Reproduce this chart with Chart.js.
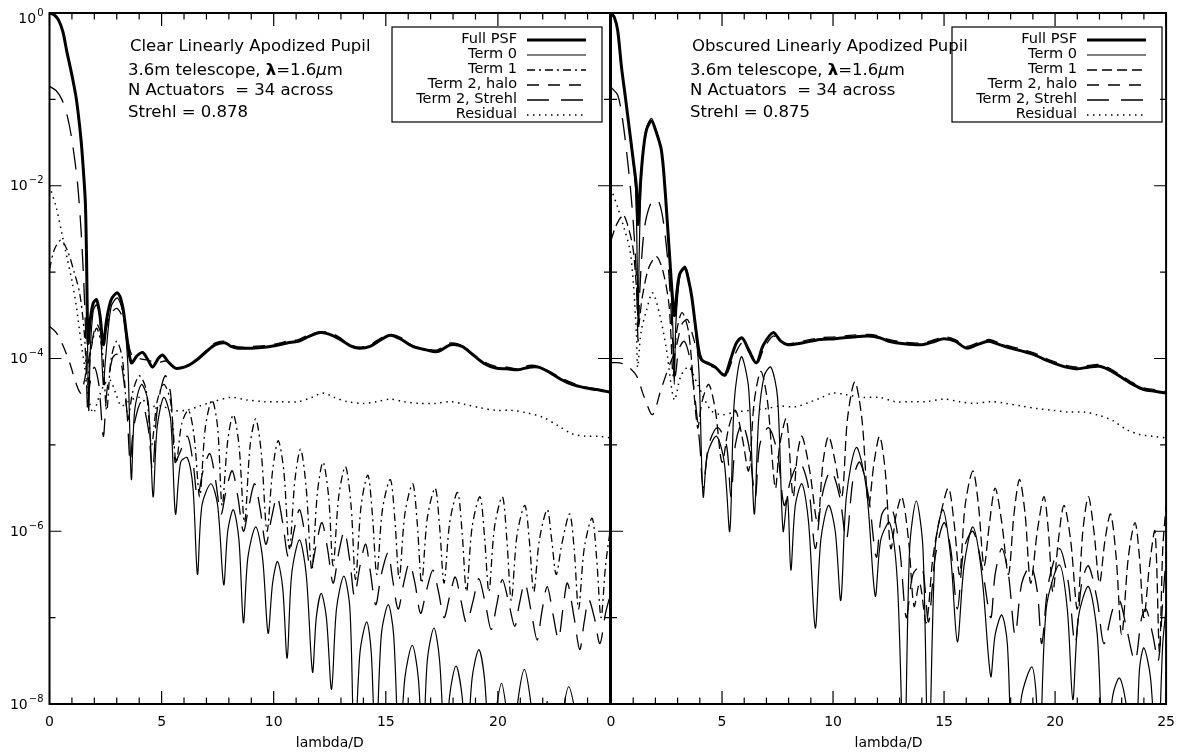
<!DOCTYPE html>
<html>
<head>
<meta charset="utf-8">
<script src="https://cdn.jsdelivr.net/npm/chart.js@4.4.1/dist/chart.umd.min.js"></script>
<style>
  html, body { margin: 0; padding: 0; background: #fff; }
  #wrap { position: relative; width: 1185px; height: 752px; }
  #left { position: absolute; left: 0; top: 0; }
  #right { position: absolute; left: 590px; top: 0; }
</style>
</head>
<body>
<div id="wrap">
  <canvas id="left" width="620" height="752"></canvas>
  <canvas id="right" width="595" height="752"></canvas>
</div>
<script>
// ---- data: [lambda/D, log10(intensity)] ----
const seriesNames = ['Full PSF', 'Term 0', 'Term 1', 'Term 2, halo', 'Term 2, Strehl', 'Residual'];
const xMajor = [0, 5, 10, 15, 20, 25];
const yDecades = [0, -1, -2, -3, -4, -5, -6, -7, -8];
const yLabelExp = [0, -2, -4, -6, -8];
const yLabelSup = ['0', '\u22122', '\u22124', '\u22126', '\u22128'];

// left panel: clear pupil
const leftFull = [[0,0],[0.2,-0.02],[0.4,-0.08],[0.6,-0.22],[0.76,-0.43],[1.0,-0.72],[1.2,-1.0],[1.4,-1.45],[1.5,-1.78],[1.6,-2.2],[1.65,-2.8],[1.72,-3.82],[1.82,-3.55],[1.95,-3.36],[2.1,-3.32],[2.25,-3.5],[2.4,-3.84],[2.55,-3.55],[2.75,-3.32],[3.03,-3.24],[3.25,-3.38],[3.45,-3.75],[3.65,-4.05],[3.9,-3.97],[4.15,-3.93],[4.4,-4.02],[4.6,-4.1],[4.85,-4.0],[5.05,-3.96],[5.3,-4.04],[5.6,-4.11],[5.85,-4.11],[6.2,-4.08],[6.65,-4.0],[7.0,-3.92],[7.4,-3.84],[7.85,-3.82],[8.1,-3.86],[8.4,-3.88],[9.0,-3.88],[9.6,-3.87],[10.1,-3.85],[10.6,-3.82],[11.1,-3.8],[11.6,-3.74],[12.1,-3.7],[12.5,-3.72],[12.9,-3.77],[13.4,-3.85],[13.8,-3.88],[14.3,-3.86],[14.8,-3.78],[15.2,-3.73],[15.7,-3.78],[16.2,-3.86],[16.8,-3.9],[17.3,-3.92],[17.9,-3.84],[18.4,-3.86],[18.9,-3.96],[19.4,-4.06],[19.9,-4.11],[20.4,-4.12],[20.9,-4.13],[21.4,-4.1],[21.8,-4.1],[22.3,-4.16],[22.8,-4.24],[23.3,-4.3],[23.9,-4.34],[24.4,-4.36],[25,-4.39]];
const leftTerm0 = [[0,0],[0.2,-0.02],[0.4,-0.08],[0.6,-0.22],[0.76,-0.43],[1.0,-0.72],[1.2,-1.0],[1.4,-1.45],[1.5,-1.78],[1.6,-2.3],[1.68,-3.5],[1.75,-4.6],[1.82,-3.9],[1.95,-3.45],[2.1,-3.38],[2.25,-3.55],[2.4,-4.3],[2.5,-4.0],[2.75,-3.4],[3.03,-3.3],[3.3,-3.5],[3.5,-4.1],[3.65,-5.4],[3.8,-4.6],[4.1,-4.3],[4.4,-4.5],[4.62,-5.6],[4.8,-4.8],[5.1,-4.45],[5.4,-4.7],[5.62,-5.8],[5.85,-5.2],[6.15,-5.15],[6.4,-5.5],[6.6,-6.5],[6.8,-5.7],[7.2,-5.45],[7.5,-5.7],[7.77,-6.62],[7.95,-6.0],[8.2,-5.75],[8.45,-6.1],[8.65,-7.06],[8.85,-6.3],[9.2,-5.95],[9.5,-6.3],[9.75,-7.18],[9.95,-6.6],[10.17,-6.35],[10.4,-6.65],[10.6,-7.47],[10.8,-6.5],[11.15,-6.1],[11.45,-6.5],[11.73,-7.63],[11.9,-7.0],[12.12,-6.72],[12.35,-7.0],[12.58,-7.83],[12.8,-6.9],[13.13,-6.52],[13.4,-6.9],[13.6,-8.6],[13.85,-7.4],[14.15,-7.05],[14.35,-7.4],[14.55,-8.6],[14.8,-7.2],[15.11,-6.85],[15.35,-7.2],[15.6,-8.6],[15.85,-7.7],[16.18,-7.32],[16.45,-7.7],[16.65,-8.6],[16.85,-7.5],[17.15,-7.12],[17.4,-7.5],[17.65,-8.6],[17.85,-7.9],[18.13,-7.56],[18.4,-7.9],[18.6,-8.6],[18.85,-7.7],[19.15,-7.37],[19.4,-7.7],[19.65,-8.6],[19.9,-8.1],[20.16,-7.76],[20.4,-8.1],[20.65,-8.6],[20.9,-7.95],[21.18,-7.6],[21.45,-7.95],[21.7,-8.6],[22.0,-8.3],[22.2,-7.97],[22.4,-8.3],[22.7,-8.6],[22.9,-8.1],[23.16,-7.8],[23.45,-8.1],[23.7,-8.6],[23.95,-8.3],[24.15,-8.1],[24.4,-8.4],[25,-8.6]];
const leftTerm1 = [[0,-2.97],[0.2,-2.75],[0.5,-2.63],[0.8,-2.75],[1.1,-3.0],[1.35,-3.25],[1.55,-3.7],[1.7,-4.3],[1.85,-3.9],[2.1,-3.65],[2.35,-3.9],[2.55,-4.6],[2.75,-4.0],[3.0,-3.8],[3.25,-4.0],[3.5,-4.7],[3.7,-4.4],[4.0,-4.2],[4.3,-4.35],[4.55,-5.0],[4.8,-4.5],[5.1,-4.3],[5.4,-4.5],[5.65,-5.2],[5.9,-4.75],[6.2,-4.6],[6.45,-4.9],[6.7,-5.6],[6.95,-4.8],[7.25,-4.48],[7.5,-4.8],[7.7,-5.7],[7.95,-4.95],[8.2,-4.65],[8.45,-5.0],[8.7,-5.9],[8.95,-5.0],[9.2,-4.7],[9.45,-5.1],[9.7,-6.0],[9.95,-5.3],[10.2,-4.95],[10.45,-5.3],[10.7,-6.2],[10.95,-5.4],[11.2,-5.05],[11.45,-5.5],[11.7,-6.45],[11.95,-5.55],[12.2,-5.2],[12.45,-5.6],[12.65,-6.4],[12.9,-5.6],[13.2,-5.25],[13.45,-5.7],[13.65,-6.56],[13.9,-5.7],[14.2,-5.35],[14.4,-5.8],[14.6,-6.5],[14.85,-5.75],[15.2,-5.4],[15.4,-5.85],[15.6,-6.55],[15.85,-5.8],[16.2,-5.45],[16.4,-5.9],[16.6,-6.6],[16.85,-5.85],[17.2,-5.5],[17.4,-5.95],[17.6,-6.6],[17.85,-5.9],[18.2,-5.55],[18.4,-6.0],[18.6,-6.7],[18.85,-5.95],[19.2,-5.6],[19.4,-6.05],[19.6,-6.7],[19.85,-5.95],[20.2,-5.6],[20.4,-6.1],[20.6,-6.8],[20.85,-6.05],[21.2,-5.7],[21.4,-6.1],[21.6,-6.7],[21.85,-6.1],[22.2,-5.75],[22.4,-6.1],[22.6,-6.5],[22.85,-6.15],[23.2,-5.8],[23.4,-6.2],[23.6,-6.9],[23.85,-6.2],[24.2,-5.85],[24.4,-6.3],[24.6,-7.0],[24.8,-6.4],[25,-6.0]];
const leftHalo = [[0,-3.63],[0.3,-3.7],[0.6,-3.85],[0.9,-4.05],[1.2,-4.3],[1.4,-4.4],[1.6,-4.2],[1.8,-3.95],[2.1,-3.6],[2.4,-3.75],[2.7,-3.5],[3.0,-3.42],[3.3,-3.55],[3.65,-3.95],[4.0,-4.0],[4.4,-4.02],[4.8,-4.05],[5.2,-4.03],[5.6,-4.1],[6.0,-4.1],[6.6,-4.0],[7.0,-3.9],[7.4,-3.82],[7.8,-3.8],[8.2,-3.85],[8.6,-3.87],[9.0,-3.86],[9.6,-3.85],[10.1,-3.83],[10.6,-3.8],[11.1,-3.78],[11.6,-3.72],[12.1,-3.69],[12.5,-3.7],[12.9,-3.75],[13.4,-3.84],[13.8,-3.87],[14.3,-3.84],[14.8,-3.76],[15.2,-3.72],[15.7,-3.76],[16.2,-3.85],[16.8,-3.89],[17.3,-3.9],[17.9,-3.82],[18.4,-3.85],[18.9,-3.95],[19.4,-4.04],[19.9,-4.09],[20.4,-4.1],[20.9,-4.12],[21.4,-4.08],[21.8,-4.09],[22.3,-4.15],[22.8,-4.22],[23.3,-4.28],[23.9,-4.33],[24.4,-4.35],[25,-4.38]];
const leftStrehl = [[0,-0.85],[0.3,-0.9],[0.55,-1.0],[0.8,-1.2],[1.0,-1.47],[1.25,-1.97],[1.45,-2.7],[1.6,-3.6],[1.7,-4.6],[1.8,-4.3],[2.0,-4.1],[2.2,-4.3],[2.4,-4.9],[2.55,-4.4],[2.8,-4.0],[3.0,-3.95],[3.2,-4.05],[3.45,-4.6],[3.6,-5.2],[3.75,-4.8],[4.1,-4.5],[4.4,-4.8],[4.6,-5.3],[4.8,-4.6],[5.15,-4.2],[5.4,-4.4],[5.6,-5.2],[5.8,-5.1],[6.15,-4.9],[6.4,-5.2],[6.6,-5.6],[6.85,-5.3],[7.15,-5.1],[7.4,-5.4],[7.65,-5.8],[7.9,-5.5],[8.15,-5.3],[8.4,-5.6],[8.65,-6.0],[8.9,-5.7],[9.15,-5.45],[9.4,-5.75],[9.65,-6.15],[9.9,-5.85],[10.15,-5.6],[10.4,-5.9],[10.65,-6.3],[10.9,-6.0],[11.15,-5.75],[11.4,-6.05],[11.65,-6.45],[11.9,-6.15],[12.15,-5.9],[12.4,-6.2],[12.65,-6.6],[12.9,-6.25],[13.15,-6.0],[13.4,-6.35],[13.6,-6.75],[13.85,-6.4],[14.1,-6.15],[14.3,-6.45],[14.55,-6.85],[14.8,-6.5],[15.1,-6.25],[15.3,-6.55],[15.55,-6.9],[15.8,-6.6],[16.05,-6.37],[16.3,-6.6],[16.55,-6.95],[16.8,-6.7],[17.1,-6.45],[17.35,-6.7],[17.6,-7.0],[17.85,-6.75],[18.1,-6.53],[18.35,-6.8],[18.6,-7.06],[18.9,-6.8],[19.15,-6.55],[19.45,-6.85],[19.7,-7.14],[19.95,-6.85],[20.2,-6.56],[20.5,-6.85],[20.75,-7.1],[20.95,-6.85],[21.2,-6.6],[21.5,-6.95],[21.75,-7.26],[21.95,-6.95],[22.2,-6.64],[22.45,-6.95],[22.7,-7.25],[22.9,-6.9],[23.1,-6.6],[23.4,-7.0],[23.65,-7.37],[23.85,-7.05],[24.05,-6.79],[24.3,-7.0],[24.55,-7.3],[24.8,-6.95],[25,-6.75]];
const leftResidual = [[0,-2.0],[0.3,-2.25],[0.55,-2.55],[0.77,-2.82],[1.0,-3.1],[1.2,-3.4],[1.4,-3.8],[1.57,-4.1],[1.7,-4.4],[1.95,-4.63],[2.2,-4.45],[2.45,-4.3],[2.7,-4.25],[2.95,-4.4],[3.2,-4.55],[3.5,-4.5],[4.0,-4.45],[4.5,-4.55],[5.0,-4.55],[5.5,-4.6],[6.1,-4.6],[6.7,-4.55],[7.3,-4.5],[8.1,-4.45],[8.8,-4.48],[9.6,-4.5],[10.3,-4.5],[11.1,-4.5],[11.7,-4.45],[12.2,-4.4],[12.7,-4.45],[13.3,-4.5],[14.0,-4.52],[14.6,-4.5],[15.2,-4.47],[15.8,-4.5],[16.5,-4.52],[17.2,-4.52],[17.9,-4.5],[18.5,-4.53],[19.2,-4.57],[19.9,-4.6],[20.6,-4.6],[21.3,-4.63],[22.0,-4.68],[22.7,-4.78],[23.3,-4.87],[23.9,-4.9],[24.5,-4.9],[25,-4.92]];

// right panel: obscured pupil
const rightFull = [[0,0],[0.15,-0.05],[0.3,-0.2],[0.47,-0.62],[0.65,-0.98],[0.85,-1.39],[1.0,-1.7],[1.14,-2.0],[1.22,-2.45],[1.32,-2.0],[1.45,-1.6],[1.6,-1.35],[1.82,-1.25],[2.0,-1.35],[2.27,-1.59],[2.45,-2.1],[2.62,-2.74],[2.85,-3.5],[2.98,-3.2],[3.1,-3.02],[3.33,-2.95],[3.5,-3.1],[3.64,-3.29],[3.95,-3.9],[4.1,-4.02],[4.4,-4.06],[4.7,-4.1],[5.0,-4.18],[5.15,-4.19],[5.4,-4.0],[5.65,-3.82],[5.9,-3.76],[6.2,-3.9],[6.55,-4.05],[6.85,-3.85],[7.3,-3.7],[7.65,-3.8],[7.95,-3.84],[8.6,-3.82],[9.4,-3.78],[10.1,-3.77],[10.9,-3.75],[11.6,-3.74],[12.1,-3.76],[12.5,-3.8],[13.2,-3.83],[14.0,-3.84],[14.6,-3.8],[15.0,-3.77],[15.5,-3.8],[16.0,-3.88],[16.5,-3.84],[17.0,-3.8],[17.5,-3.84],[18.0,-3.88],[18.6,-3.92],[19.1,-3.96],[19.6,-4.02],[20.0,-4.06],[20.5,-4.1],[21.0,-4.12],[21.5,-4.1],[22.0,-4.09],[22.5,-4.14],[23.0,-4.22],[23.5,-4.3],[24.0,-4.36],[24.5,-4.38],[25,-4.4]];
const rightTerm0 = [[0,0],[0.15,-0.05],[0.3,-0.2],[0.47,-0.62],[0.65,-0.98],[0.85,-1.39],[1.0,-1.72],[1.12,-2.1],[1.18,-2.9],[1.22,-3.6],[1.27,-2.8],[1.35,-2.0],[1.45,-1.58],[1.6,-1.33],[1.82,-1.22],[2.0,-1.33],[2.27,-1.6],[2.45,-2.1],[2.62,-2.76],[2.78,-3.6],[2.85,-4.3],[2.92,-3.6],[3.1,-3.05],[3.33,-2.93],[3.5,-3.08],[3.64,-3.3],[3.95,-4.1],[4.15,-5.6],[4.35,-5.1],[4.75,-4.9],[5.1,-5.2],[5.35,-6.0],[5.55,-4.5],[5.87,-3.98],[6.2,-4.35],[6.45,-5.8],[6.65,-4.7],[6.9,-4.2],[7.2,-4.1],[7.5,-4.45],[7.75,-6.0],[7.95,-5.6],[8.1,-6.45],[8.3,-5.7],[8.6,-5.45],[8.9,-5.9],[9.2,-7.12],[9.45,-6.1],[9.8,-5.7],[10.1,-6.0],[10.35,-6.8],[10.6,-5.6],[11.05,-5.03],[11.5,-5.5],[11.9,-6.75],[12.15,-6.1],[12.55,-5.9],[12.9,-6.6],[13.2,-8.8],[13.45,-6.2],[13.75,-5.65],[14.05,-6.2],[14.3,-8.8],[14.6,-6.2],[14.95,-5.75],[15.3,-6.3],[15.6,-7.28],[15.9,-6.4],[16.3,-5.95],[16.7,-6.5],[17.1,-7.68],[17.3,-7.2],[17.6,-6.97],[17.85,-7.3],[18.1,-8.8],[18.5,-7.9],[18.95,-7.57],[19.15,-7.9],[19.3,-8.8],[19.6,-6.9],[20.19,-6.39],[20.55,-6.9],[20.8,-7.95],[21.05,-7.0],[21.5,-6.64],[21.9,-7.2],[22.2,-8.8],[22.6,-7.9],[22.9,-7.7],[23.2,-8.0],[23.6,-8.8],[23.8,-7.6],[24.0,-7.35],[24.3,-7.7],[24.6,-8.8],[24.85,-7.3],[25,-6.9]];
const rightTerm1 = [[0,-2.63],[0.25,-2.45],[0.55,-2.34],[0.8,-2.5],[1.0,-2.74],[1.15,-3.2],[1.25,-3.6],[1.4,-3.3],[1.7,-2.95],[2.05,-2.82],[2.35,-3.0],[2.62,-3.4],[2.8,-4.2],[2.95,-3.7],[3.2,-3.47],[3.5,-3.7],[3.9,-4.8],[4.1,-4.5],[4.4,-4.3],[4.7,-4.6],[5.0,-5.2],[5.3,-4.8],[5.6,-4.6],[5.9,-4.9],[6.2,-5.3],[6.45,-4.5],[6.75,-4.15],[7.05,-4.5],[7.4,-5.5],[7.6,-5.0],[7.9,-4.7],[8.2,-5.6],[8.4,-5.1],[8.6,-4.9],[8.95,-5.3],[9.3,-5.9],[9.55,-5.2],[9.8,-4.9],[10.1,-5.2],[10.4,-5.6],[10.65,-4.7],[10.98,-4.27],[11.3,-4.7],[11.6,-5.7],[11.85,-5.2],[12.1,-4.9],[12.35,-5.3],[12.6,-6.2],[12.85,-5.8],[13.1,-5.6],[13.4,-6.1],[13.65,-6.87],[13.9,-6.6],[14.2,-7.06],[14.5,-6.3],[14.85,-5.8],[15.2,-5.5],[15.45,-5.9],[15.7,-6.5],[15.95,-5.7],[16.3,-5.3],[16.55,-5.7],[16.8,-6.4],[17.05,-5.9],[17.3,-5.5],[17.6,-5.9],[17.9,-6.5],[18.15,-5.8],[18.4,-5.4],[18.65,-5.8],[18.9,-6.6],[19.2,-6.0],[19.5,-5.6],[19.7,-6.0],[19.9,-6.7],[20.15,-6.1],[20.4,-5.7],[20.7,-6.1],[21.0,-6.9],[21.25,-6.0],[21.5,-5.6],[21.75,-6.0],[22.0,-6.6],[22.25,-6.1],[22.5,-5.8],[22.75,-6.3],[23.0,-7.2],[23.3,-6.3],[23.6,-5.9],[23.8,-6.3],[24.0,-7.0],[24.25,-6.4],[24.5,-6.0],[24.7,-7.4],[24.85,-6.2],[25,-5.7]];
const rightHalo = [[0,-4.05],[0.4,-4.05],[0.8,-4.1],[1.15,-4.2],[1.5,-4.45],[1.87,-4.65],[2.25,-4.36],[2.6,-4.1],[2.9,-3.9],[3.2,-3.6],[3.45,-3.55],[3.7,-3.75],[4.0,-4.0],[4.4,-4.08],[4.8,-4.12],[5.15,-4.2],[5.5,-4.0],[5.9,-3.82],[6.2,-3.92],[6.55,-4.07],[6.9,-3.88],[7.3,-3.74],[7.65,-3.8],[7.95,-3.83],[8.6,-3.8],[9.4,-3.76],[10.1,-3.75],[10.9,-3.73],[11.6,-3.72],[12.1,-3.74],[12.5,-3.78],[13.2,-3.81],[14.0,-3.82],[14.6,-3.78],[15.0,-3.75],[15.5,-3.78],[16.0,-3.86],[16.5,-3.82],[17.0,-3.78],[17.5,-3.82],[18.0,-3.86],[18.6,-3.9],[19.1,-3.94],[19.6,-4.0],[20.0,-4.04],[20.5,-4.08],[21.0,-4.1],[21.5,-4.08],[22.0,-4.07],[22.5,-4.12],[23.0,-4.2],[23.5,-4.28],[24.0,-4.34],[24.5,-4.36],[25,-4.38]];
const rightStrehl = [[0,-0.86],[0.3,-0.95],[0.5,-1.2],[0.7,-1.6],[0.9,-2.1],[1.05,-2.6],[1.15,-3.1],[1.22,-3.8],[1.3,-3.2],[1.5,-2.5],[1.8,-2.2],[2.1,-2.16],[2.35,-2.4],[2.6,-3.0],[2.8,-3.9],[2.9,-4.2],[3.05,-3.9],[3.3,-3.8],[3.55,-4.0],[3.8,-4.5],[4.0,-5.0],[4.15,-5.5],[4.4,-5.0],[4.8,-4.8],[5.2,-5.0],[5.4,-5.6],[5.6,-5.0],[5.9,-4.75],[6.2,-5.0],[6.5,-5.6],[6.7,-5.0],[7.1,-4.8],[7.5,-5.1],[7.8,-5.7],[8.1,-5.4],[8.5,-5.2],[8.9,-5.5],[9.2,-6.2],[9.5,-5.6],[9.9,-5.3],[10.3,-5.6],[10.6,-6.1],[10.9,-5.4],[11.2,-5.2],[11.6,-5.6],[11.95,-6.3],[12.2,-5.8],[12.6,-5.7],[13.0,-6.2],[13.3,-7.0],[13.6,-6.5],[14.0,-6.4],[14.3,-7.05],[14.6,-6.3],[15.0,-5.9],[15.3,-6.2],[15.6,-6.9],[15.9,-6.2],[16.3,-6.0],[16.7,-6.4],[17.1,-7.0],[17.3,-6.5],[17.6,-6.2],[17.9,-6.5],[18.2,-7.2],[18.5,-6.6],[18.9,-6.4],[19.2,-6.7],[19.4,-7.3],[19.7,-6.6],[20.2,-6.2],[20.6,-6.6],[20.9,-7.3],[21.2,-6.6],[21.5,-6.4],[21.9,-6.8],[22.2,-7.3],[22.6,-6.9],[22.9,-6.8],[23.2,-7.1],[23.6,-7.5],[23.9,-7.0],[24.1,-6.9],[24.4,-7.2],[24.65,-7.5],[24.85,-6.8],[25,-6.3]];
const rightResidual = [[0,-2.03],[0.3,-2.25],[0.6,-2.5],[0.85,-2.74],[1.0,-3.1],[1.15,-3.75],[1.2,-4.1],[1.35,-3.7],[1.6,-3.44],[1.87,-3.24],[2.2,-3.5],[2.5,-3.9],[2.85,-4.48],[3.15,-4.2],[3.5,-4.1],[3.9,-4.3],[4.5,-4.6],[5.0,-4.65],[5.6,-4.62],[6.3,-4.6],[7.0,-4.58],[7.6,-4.55],[8.3,-4.56],[9.0,-4.5],[9.5,-4.45],[10.0,-4.4],[10.6,-4.42],[11.3,-4.45],[12.1,-4.45],[12.8,-4.5],[13.5,-4.5],[14.2,-4.5],[15.0,-4.47],[15.7,-4.5],[16.4,-4.52],[17.1,-4.5],[17.8,-4.52],[18.5,-4.55],[19.2,-4.58],[19.9,-4.6],[20.6,-4.62],[21.3,-4.62],[22.0,-4.66],[22.6,-4.72],[23.2,-4.82],[23.8,-4.88],[24.4,-4.9],[25,-4.92]];

// ---- styling ----
const FONT = '"DejaVu Sans", sans-serif';
const lineWidths = [3, 1.2, 1.3, 1.3, 1.3, 1.5];
const dashSets = {
  left:  [[], [], [8, 4, 2, 4], [12, 9], [22, 12], [1.5, 4.5]],
  right: [[], [], [10, 5], [12, 9], [22, 12], [1.5, 4.5]]
};

const panels = {
  left: {
    series: [leftFull, leftTerm0, leftTerm1, leftHalo, leftStrehl, leftResidual],
    title: 'Clear Linearly Apodized Pupil',
    strehl: 'Strehl = 0.878',
    textX: 130, legendX: 392,
    yWidth: 49.5, padRight: 5.5, showY: true, hideLast: true, blank: false
  },
  right: {
    series: [rightFull, rightTerm0, rightTerm1, rightHalo, rightStrehl, rightResidual],
    title: 'Obscured Linearly Apodized Pupil',
    strehl: 'Strehl = 0.875',
    textX: 102, legendX: 362,
    yWidth: 21, padRight: 12, showY: false, hideLast: false, blank: true
  }
};

function toPoints(pairs) {
  return pairs.map(p => ({ x: p[0], y: Math.pow(10, p[1]) }));
}

function drawPieces(ctx, x, y, size, pieces) {
  pieces.forEach(([txt, style]) => {
    ctx.font = style + ' ' + size + 'px ' + FONT;
    ctx.fillText(txt, x, y);
    x += ctx.measureText(txt).width;
  });
}

function framePlugin(side) {
  const p = panels[side];
  return {
    id: 'frame',
    beforeDraw(chart) {
      // the right panel is pasted over the left one from its own axis onwards
      if (!p.blank) return;
      const ctx = chart.ctx, a = chart.chartArea;
      ctx.save();
      ctx.fillStyle = '#fff';
      ctx.fillRect(a.left, 0, chart.width - a.left, chart.height);
      ctx.restore();
    },
    afterDraw(chart) {
      const ctx = chart.ctx, a = chart.chartArea;
      const xs = chart.scales.x, ys = chart.scales.y;
      ctx.save();
      ctx.strokeStyle = '#000';
      ctx.fillStyle = '#000';
      ctx.setLineDash([]);

      // box
      ctx.lineWidth = 2;
      ctx.strokeRect(a.left, a.top, a.right - a.left, a.bottom - a.top);

      // inward ticks
      ctx.lineWidth = 1.2;
      ctx.beginPath();
      for (let v = 0; v <= 25; v++) {
        const px = xs.getPixelForValue(v);
        const len = xMajor.includes(v) ? 13 : 6.5;
        ctx.moveTo(px, a.bottom); ctx.lineTo(px, a.bottom - len);
        ctx.moveTo(px, a.top); ctx.lineTo(px, a.top + len);
      }
      yDecades.forEach(e => {
        const py = ys.getPixelForValue(Math.pow(10, e));
        const len = yLabelExp.includes(e) ? 12 : 6;
        ctx.moveTo(a.left, py); ctx.lineTo(a.left + len, py);
        ctx.moveTo(a.right, py); ctx.lineTo(a.right - len, py);
      });
      ctx.stroke();

      // y tick labels 10^n with raised exponent
      if (p.showY) {
        ctx.textBaseline = 'middle';
        yLabelExp.forEach((e, k) => {
          const py = ys.getPixelForValue(Math.pow(10, e)) + (e === 0 ? 6 : 1);
          ctx.font = '10px ' + FONT;
          const sw = ctx.measureText(yLabelSup[k]).width;
          ctx.textAlign = 'right';
          ctx.fillText(yLabelSup[k], a.left - 6, py - 6);
          ctx.font = '14px ' + FONT;
          ctx.fillText('10', a.left - 7 - sw, py);
        });
      }

      // annotation text
      ctx.textBaseline = 'middle';
      ctx.textAlign = 'left';
      ctx.font = '16.5px ' + FONT;
      ctx.fillText(p.title, p.textX, 47);
      drawPieces(ctx, p.textX - 2, 71, 16.5, [['3.6m telescope, ', ''], ['\u03BB', 'bold'], ['=1.6', ''], ['\u03BC', 'italic'], ['m', '']]);
      ctx.font = '16.5px ' + FONT;
      ctx.fillText('N Actuators  = 34 across', p.textX - 2, 91);
      ctx.fillText(p.strehl, p.textX - 2, 112.5);

      // legend
      const lx = p.legendX;
      ctx.lineWidth = 1.2;
      ctx.strokeRect(lx, 27, 210, 95);
      ctx.textAlign = 'right';
      chart.data.datasets.forEach((ds, i) => {
        const y = 39 + i * 15;
        ctx.font = '14.5px ' + FONT;
        ctx.fillText(ds.label, lx + 125, y);
        ctx.save();
        ctx.lineWidth = ds.borderWidth;
        ctx.setLineDash(ds.borderDash);
        ctx.beginPath();
        ctx.moveTo(lx + 135, y + 1);
        ctx.lineTo(lx + 194, y + 1);
        ctx.stroke();
        ctx.restore();
      });
      ctx.restore();
    }
  };
}

function makeChart(side) {
  const p = panels[side];
  const datasets = p.series.map((pairs, i) => ({
    label: seriesNames[i],
    data: toPoints(pairs),
    borderColor: '#000',
    borderWidth: lineWidths[i],
    borderDash: dashSets[side][i],
    pointRadius: 0,
    fill: false,
    tension: 0.3,
    order: i === 0 ? 0 : 1
  }));

  return new Chart(document.getElementById(side), {
    type: 'line',
    data: { datasets },
    options: {
      responsive: false,
      animation: false,
      layout: { padding: { top: 13, right: p.padRight, left: 0, bottom: 0 } },
      plugins: { legend: { display: false }, tooltip: { enabled: false } },
      scales: {
        x: {
          type: 'linear', min: 0, max: 25,
          grid: { display: false, drawTicks: false },
          border: { display: false },
          ticks: {
            stepSize: 5, maxRotation: 0, autoSkip: false, padding: 10,
            color: '#000', font: { family: FONT, size: 14 },
            callback: v => (p.hideLast && v === 25) ? '' : String(v)
          },
          title: {
            display: true, text: 'lambda/D', color: '#000',
            font: { family: FONT, size: 14 }, padding: { top: 2, bottom: 0 }
          },
          afterFit: s => { s.height = 48; }
        },
        y: {
          type: 'logarithmic', min: 1e-8, max: 1,
          grid: { display: false, drawTicks: false },
          border: { display: false },
          ticks: { display: false },
          afterBuildTicks: s => { s.ticks = yDecades.map(e => ({ value: Math.pow(10, e) })); },
          afterFit: s => { s.width = p.yWidth; }
        }
      }
    },
    plugins: [framePlugin(side)]
  });
}

makeChart('left');
makeChart('right');
</script>
</body>
</html>
